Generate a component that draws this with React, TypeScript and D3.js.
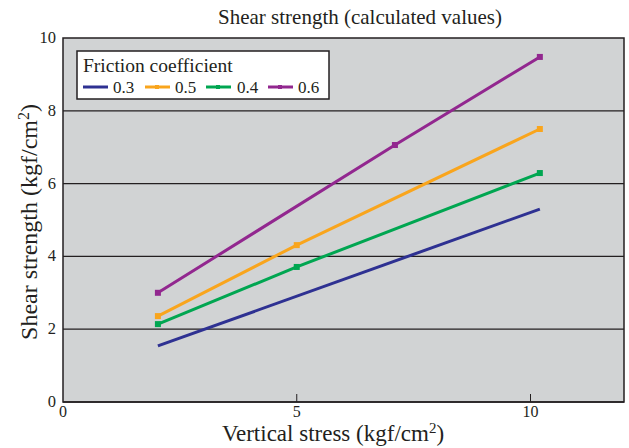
import React from "react";
import * as d3 from "d3";

const xTicks = [0, 5, 10];
const yTicks = [0, 2, 4, 6, 8, 10];
const seriesNames = ["0.3", "0.5", "0.4", "0.6"];
const seriesColors = ["#2e3192", "#f9a51d", "#00a651", "#92278f"];
const blue03 = [
  { x: 2.03, y: 1.54 },
  { x: 10.2, y: 5.3 },
];
const orange05 = [
  { x: 2.03, y: 2.36 },
  { x: 5.0, y: 4.31 },
  { x: 10.2, y: 7.5 },
];
const green04 = [
  { x: 2.03, y: 2.14 },
  { x: 5.0, y: 3.71 },
  { x: 10.2, y: 6.29 },
];
const purple06 = [
  { x: 2.03, y: 3.0 },
  { x: 7.1, y: 7.06 },
  { x: 10.2, y: 9.48 },
];
const seriesData = [blue03, orange05, green04, purple06];
const markersShown = [false, true, true, true];

export default function App() {
  const W = 629, H = 448;
  const left = 63, right = 624, top = 38, bottom = 402;
  const x = d3.scaleLinear().domain([0, 12]).range([left, right]);
  const y = d3.scaleLinear().domain([0, 10]).range([bottom, top]);
  const line = d3.line<{ x: number; y: number }>().x((d) => x(d.x)).y((d) => y(d.y));
  const font = "Liberation Serif";
  const legendItems = [
    { lx: 83, tx: 113 },
    { lx: 145, tx: 175 },
    { lx: 206, tx: 237 },
    { lx: 268, tx: 298 },
  ];
  const ink = "#231f20";
  return (
    <svg width={W} height={H} style={{ position: "absolute", left: 0, top: 0, background: "#fff" }}>
      <g fontFamily={font}>
        <text x={360} y={24} textAnchor="middle" fontSize={21} fill={ink}>
          Shear strength (calculated values)
        </text>
        <rect x={left} y={top} width={right - left} height={bottom - top} fill="#d1d3d4" stroke={ink} strokeWidth={1.5} />
        {yTicks.filter((t) => t > 0 && t < 10).map((t) => (
          <line key={t} x1={left} x2={right} y1={y(t)} y2={y(t)} stroke={ink} strokeWidth={1.3} />
        ))}
        {xTicks.filter((t) => t > 0).map((t) => (
          <line key={t} x1={x(t)} x2={x(t)} y1={bottom} y2={bottom - 8} stroke={ink} strokeWidth={1} />
        ))}
        <line x1={left} x2={right} y1={bottom} y2={bottom} stroke={ink} strokeWidth={1.5} />
        {yTicks.map((t) => (
          <text key={t} x={56} y={y(t) + 5} textAnchor="end" fontSize={16.5} fill={ink}>
            {t}
          </text>
        ))}
        {xTicks.map((t) => (
          <text key={t} x={x(t)} y={417} textAnchor="middle" fontSize={16} fill={ink}>
            {t}
          </text>
        ))}
        <text x={333} y={441} textAnchor="middle" fontSize={23} fill={ink}>
          Vertical stress (kgf/cm<tspan dy={-8} fontSize={15}>2</tspan><tspan dy={8}>)</tspan>
        </text>
        <text transform={`translate(37, ${(top + bottom) / 2 + 2}) rotate(-90)`} textAnchor="middle" fontSize={24} fill={ink}>
          Shear strength (kgf/cm<tspan dy={-8} fontSize={16}>2</tspan><tspan dy={8}>)</tspan>
        </text>
        {seriesData.map((d, i) => (
          <g key={i}>
            <path d={line(d) || ""} fill="none" stroke={seriesColors[i]} strokeWidth={3} />
            {markersShown[i] &&
              d.map((p, j) => (
                <rect key={j} x={x(p.x) - 3} y={y(p.y) - 3} width={6} height={6} fill={seriesColors[i]} />
              ))}
          </g>
        ))}
        <rect x={77} y={51} width={252} height={48} fill="#fff" stroke={ink} strokeWidth={1.5} />
        <text x={83} y={72} fontSize={19.5} fill={ink}>
          Friction coefficient
        </text>
        {seriesNames.map((n, i) => (
          <g key={n}>
            <line x1={legendItems[i].lx} x2={legendItems[i].lx + 25} y1={87} y2={87} stroke={seriesColors[i]} strokeWidth={3} />
            {markersShown[i] && (
              <rect x={legendItems[i].lx + 10} y={85} width={4} height={4} fill={seriesColors[i]} />
            )}
            <text x={legendItems[i].tx} y={93} fontSize={17} fill={ink}>
              {n}
            </text>
          </g>
        ))}
      </g>
    </svg>
  );
}
